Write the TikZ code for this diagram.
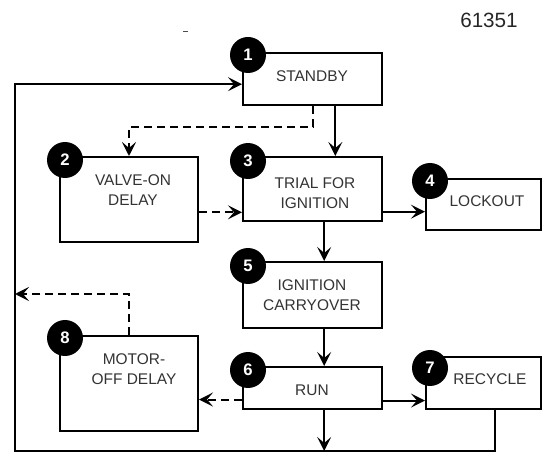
\documentclass[tikz,border=0pt]{standalone}
\usepackage{fontspec}
\setmainfont{Liberation Sans}
\usetikzlibrary{arrows.meta,calc}
\begin{document}
\begin{tikzpicture}[x=0.75pt,y=-0.75pt,
  lw/.style={line width=1.5pt},
  box/.style={draw, lw, rectangle, inner sep=0pt, fill=white},
  num/.style={circle, fill=black, minimum size=27pt, inner sep=0pt, text=white, font=\fontsize{12.5}{14}\selectfont\bfseries},
  txt/.style={font=\fontsize{11.6}{15}\selectfont, text=black!80, align=center, inner sep=0pt, anchor=base},
  arr/.style={lw, -{Stealth[length=10.5pt,width=10.5pt,inset=4.5pt]}},
  dsh/.style={dash pattern=on 6pt off 3.75pt},
  line join=miter]
\useasboundingbox (0,0) rectangle (547,456);
% boxes
\node[box, minimum width=104.25pt, minimum height=39pt]   (standby) at (312.5,79) {};
\node[box, minimum width=103.5pt,  minimum height=63.75pt] (valve)   at (129,199.5) {};
\node[box, minimum width=104.25pt, minimum height=48pt]    (trial)   at (312.5,189) {};
\node[box, minimum width=86.25pt,  minimum height=38.25pt] (lockout) at (483.5,204.5) {};
\node[box, minimum width=104.25pt, minimum height=49.5pt]  (carry)   at (312.5,295) {};
\node[box, minimum width=104.25pt, minimum height=31.5pt]  (run)     at (312.5,388) {};
\node[box, minimum width=103.5pt,  minimum height=71.25pt] (motor)   at (129,383.5) {};
\node[box, minimum width=86.25pt,  minimum height=39pt]    (recycle) at (483.5,383) {};
% texts (multi-line: base anchor is the last line's baseline)
\node[txt] (tstandby) at (312,82) {STANDBY};
\node[txt] (tvalve) at (133,206) {VALVE-ON\\DELAY};
\node[txt] (ttrial) at (315,209) {TRIAL FOR\\IGNITION};
\node[txt] (tlockout) at (487,207) {LOCKOUT};
\node[txt] (tcarry) at (312,311) {IGNITION\\CARRYOVER};
\node[txt] (trun) at (312,396) {RUN};
\node[txt] (tmotor) at (134,384) {MOTOR-\\OFF DELAY};
\node[txt] (trecycle) at (490,385) {RECYCLE};
\node[font=\fontsize{15.5}{18}\selectfont, text=black!85, inner sep=0pt, anchor=base] (code) at (489,28) {61351};
% numbered circles
\node[num] (n1) at (248,55) {1};
\node[num] (n2) at (65,160) {2};
\node[num] (n3) at (248,161) {3};
\node[num] (n4) at (430,181) {4};
\node[num] (n5) at (248,266) {5};
\node[num] (n6) at (248,370) {6};
\node[num] (n7) at (430,368) {7};
\node[num] (n8) at (65,338) {8};
% free-end coordinates
\coordinate (bl) at (15,451);
\coordinate (dl) at (15,294);
% connectors
\draw[arr] ($(recycle.south west)!0.6!(recycle.south east)$) |- (bl) |- ($(standby.north west)!0.596!(standby.south west)$);
\draw[arr] ($(run.south west)!0.583!(run.south east)$) coordinate (r2) -- (r2 |- bl);
\draw[arr] ($(standby.south west)!0.662!(standby.south east)$) coordinate (s1) -- (s1 |- trial.north);
\draw[arr,dsh] (standby.south) -- ++(0,21) -| (valve.north);
\draw[arr,dsh] ($(valve.north east)!0.647!(valve.south east)$) coordinate (v1) -- (v1 -| trial.west);
\draw[arr] ($(trial.north east)!0.844!(trial.south east)$) coordinate (t1) -- (t1 -| lockout.west);
\draw[arr] ($(trial.south west)!0.583!(trial.south east)$) coordinate (t2) -- (t2 |- carry.north);
\draw[arr] ($(carry.south west)!0.583!(carry.south east)$) coordinate (c1) -- (c1 |- run.north);
\draw[arr,dsh] ($(run.north west)!0.762!(run.south west)$) coordinate (r1) -- (r1 -| motor.east);
\draw[arr] ($(run.north east)!0.786!(run.south east)$) coordinate (r3) -- (r3 -| recycle.west);
\draw[arr,dsh] (motor.north) |- (dl);
% small mark
\fill[black!70] (183,31) rectangle (188,32.5);
\end{tikzpicture}
\end{document}
